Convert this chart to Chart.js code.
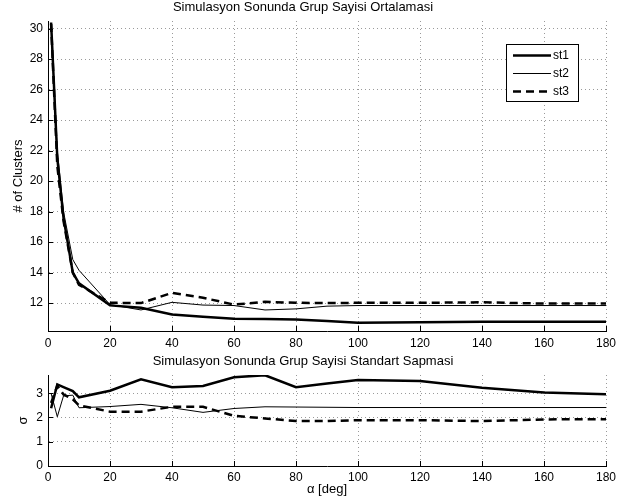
<!DOCTYPE html>
<html>
<head>
<meta charset="utf-8">
<script src="https://cdn.jsdelivr.net/npm/chart.js@4/dist/chart.umd.min.js"></script>
<style>
  body { margin: 0; background: #fff; }
  #wrap { position: relative; width: 633px; height: 502px; }
  canvas { position: absolute; left: 0; }
  #meanChart { top: 0; }
  #stdChart { top: 350px; }
</style>
</head>
<body>
<div id="wrap">
  <canvas id="meanChart" width="633" height="350"></canvas>
  <canvas id="stdChart" width="633" height="152"></canvas>
</div>
<script>
// alpha values (deg)
const alpha = [1, 3, 5, 8, 10, 20, 30, 40, 50, 60, 70, 80, 90, 100, 120, 140, 160, 180];

// mean number of clusters
const meanSt1 = [30.4, 21.5, 17.6, 14.0, 13.3, 11.85, 11.7, 11.25, 11.1, 10.97, 10.95, 10.92, 10.82, 10.71, 10.75, 10.78, 10.78, 10.78];
const meanSt2 = [30.2, 22.0, 18.0, 14.85, 14.15, 11.9, 11.55, 12.05, 11.87, 11.84, 11.55, 11.62, 11.8, 11.84, 11.84, 11.84, 11.84, 11.84];
const meanSt3 = [30.3, 21.0, 17.4, 14.0, 13.2, 12.02, 12.0, 12.67, 12.35, 11.9, 12.08, 12.02, 12.0, 12.02, 12.02, 12.05, 11.97, 11.97];

// standard deviation
const stdSt1 = [2.38, 3.36, 3.25, 3.09, 2.83, 3.10, 3.57, 3.25, 3.30, 3.66, 3.74, 3.25, 3.40, 3.54, 3.50, 3.22, 3.03, 2.96];
const stdSt2 = [2.99, 2.03, 2.89, 2.92, 2.40, 2.45, 2.54, 2.40, 2.21, 2.37, 2.44, 2.43, 2.42, 2.41, 2.41, 2.41, 2.41, 2.41];
const stdSt3 = [2.6, 3.3, 2.95, 2.75, 2.5, 2.24, 2.24, 2.44, 2.44, 2.07, 1.96, 1.85, 1.85, 1.89, 1.89, 1.85, 1.92, 1.93];

const seriesNames = ["st1", "st2", "st3"];
const xTicks = [0, 20, 40, 60, 80, 100, 120, 140, 160, 180];
const meanTicks = [12, 14, 16, 18, 20, 22, 24, 26, 28, 30];
const stdTicks = [0, 1, 2, 3];

Chart.defaults.font.family = "'Liberation Sans', Arial, sans-serif";
Chart.defaults.font.size = 12;
Chart.defaults.color = "#000";

function pts(ys) {
  return alpha.map((a, i) => ({ x: a, y: ys[i] }));
}

function makeSets(a, b, c) {
  return [
    { label: seriesNames[0], data: pts(a), borderColor: "#000", borderWidth: 2.5 },
    { label: seriesNames[1], data: pts(b), borderColor: "#000", borderWidth: 1 },
    { label: seriesNames[2], data: pts(c), borderColor: "#000", borderWidth: 2.5, borderDash: [8, 5] }
  ];
}

// matlab style ticks pointing into the axes
const innerTicks = {
  id: "innerTicks",
  afterDraw(chart) {
    const ctx = chart.ctx;
    const xs = chart.scales.x, ys = chart.scales.y;
    const area = chart.chartArea;
    ctx.save();
    ctx.strokeStyle = "#000";
    ctx.lineWidth = 1;
    ctx.beginPath();
    xs.ticks.forEach(t => {
      const px = Math.round(xs.getPixelForValue(t.value)) + 0.5;
      ctx.moveTo(px, area.bottom);
      ctx.lineTo(px, area.bottom - 5);
    });
    ys.ticks.forEach(t => {
      const py = Math.round(ys.getPixelForValue(t.value)) + 0.5;
      ctx.moveTo(area.left, py);
      ctx.lineTo(area.left + 5, py);
    });
    ctx.stroke();
    ctx.restore();
  }
};

// boxed legend inside the top plot
const boxLegend = {
  id: "boxLegend",
  afterDraw(chart) {
    const ctx = chart.ctx;
    ctx.save();
    ctx.fillStyle = "#fff";
    ctx.fillRect(506, 44, 72, 57);
    ctx.strokeStyle = "#000";
    ctx.lineWidth = 1;
    ctx.strokeRect(506.5, 44.5, 72, 57);
    chart.data.datasets.forEach((ds, i) => {
      const y = 55.5 + i * 18;
      ctx.beginPath();
      ctx.lineWidth = ds.borderWidth;
      ctx.setLineDash(ds.borderDash || []);
      ctx.moveTo(513, y);
      ctx.lineTo(551, y);
      ctx.stroke();
      ctx.setLineDash([]);
      ctx.fillStyle = "#000";
      ctx.font = "12px 'Liberation Sans', Arial, sans-serif";
      ctx.textBaseline = "middle";
      ctx.fillText(ds.label, 553, y);
    });
    ctx.restore();
  }
};

function makeOptions(o) {
  return {
    responsive: false,
    animation: false,
    devicePixelRatio: 1,
    layout: { padding: { left: 0, right: 27, top: 0, bottom: 0 } },
    elements: { point: { radius: 0 }, line: { tension: 0 } },
    plugins: {
      legend: { display: false },
      tooltip: { enabled: false },
      title: {
        display: true,
        text: o.title,
        font: { size: 13, weight: "normal" },
        color: "#000",
        padding: o.titlePad
      }
    },
    scales: {
      x: {
        type: "linear",
        min: 0,
        max: 180,
        afterBuildTicks: s => { s.ticks = xTicks.map(v => ({ value: v })); },
        afterFit: s => { s.height = o.xHeight; },
        ticks: { padding: o.xTickPad, maxRotation: 0, color: "#000" },
        grid: { color: "#9a9a9a", drawTicks: false },
        border: { display: true, color: "#000", width: 1, dash: [1, 3] },
        title: o.xTitle
      },
      y: {
        min: o.yMin,
        max: o.yMax,
        afterBuildTicks: s => { s.ticks = o.yTicks.map(v => ({ value: v })); },
        afterFit: s => { s.width = 48; },
        ticks: { padding: 5, color: "#000" },
        grid: { color: "#9a9a9a", drawTicks: false },
        border: { display: true, color: "#000", width: 1, dash: [1, 3] },
        title: { display: true, text: o.yTitle, font: { size: 13 }, color: "#000", padding: { top: o.yTitlePad, bottom: 0 } }
      }
    }
  };
}

new Chart("meanChart", {
  type: "line",
  data: { datasets: makeSets(meanSt1, meanSt2, meanSt3) },
  options: makeOptions({
    title: "Simulasyon Sonunda Grup Sayisi Ortalamasi",
    titlePad: { top: 0, bottom: 5.4 },
    xHeight: 19,
    xTickPad: 5,
    xTitle: { display: false },
    yMin: 10.17,
    yMax: 30.5,
    yTicks: meanTicks,
    yTitle: "# of Clusters",
    yTitlePad: 10.2
  }),
  plugins: [innerTicks, boxLegend]
});

new Chart("stdChart", {
  type: "line",
  data: { datasets: makeSets(stdSt1, stdSt2, stdSt3) },
  options: makeOptions({
    title: "Simulasyon Sonunda Grup Sayisi Standart Sapmasi",
    titlePad: { top: 3.2, bottom: 6.2 },
    xHeight: 36,
    xTickPad: 4,
    xTitle: { display: true, text: "\u03b1 [deg]", font: { size: 13 }, color: "#000", padding: { top: 0, bottom: 5.2 } },
    yMin: 0,
    yMax: 3.75,
    yTicks: stdTicks,
    yTitle: "\u03c3",
    yTitlePad: 15.2
  }),
  plugins: [innerTicks]
});
</script>
</body>
</html>
